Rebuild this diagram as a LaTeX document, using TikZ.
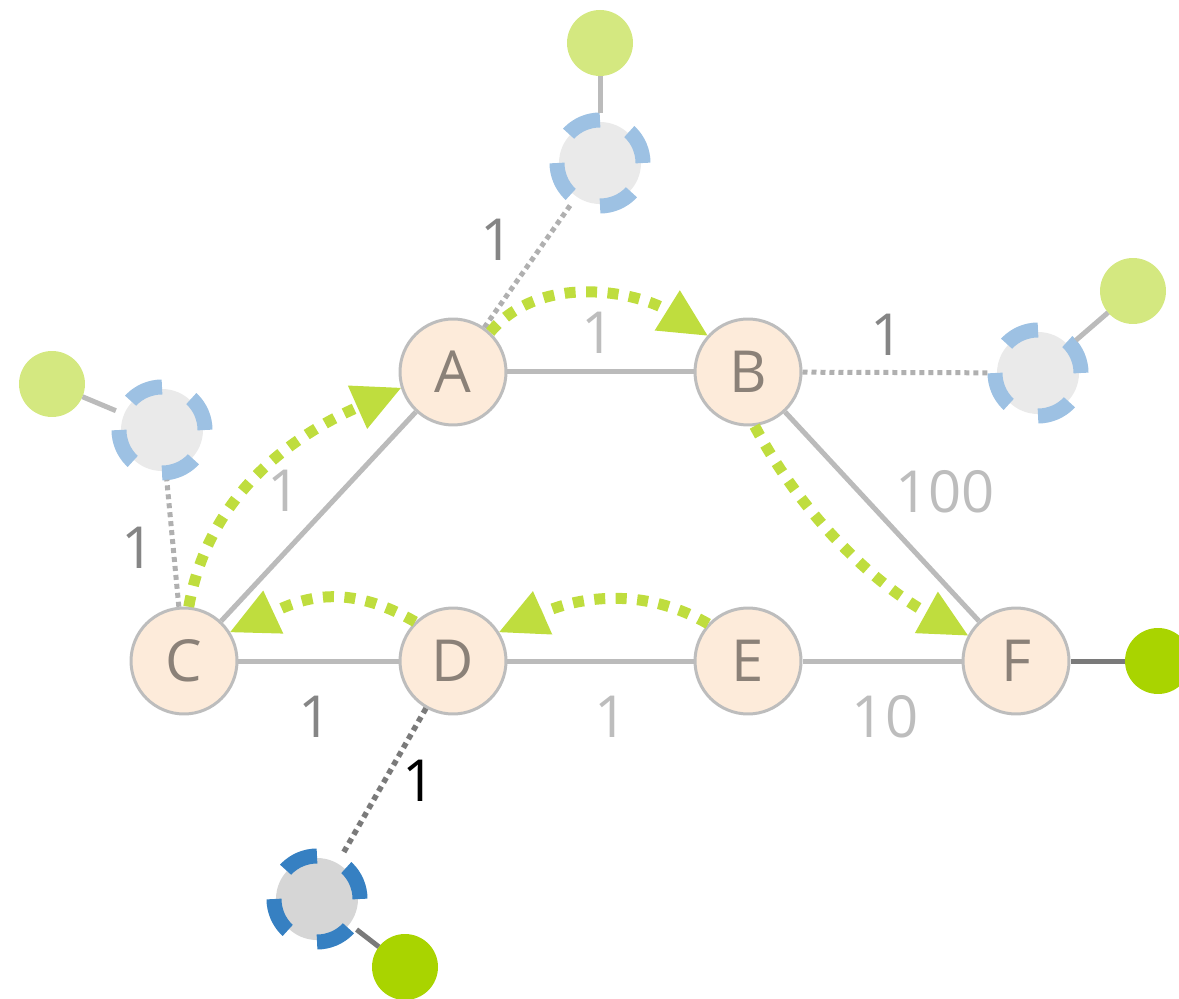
\documentclass[tikz,border=0pt]{standalone}
\usepackage{fontspec}
\setmainfont{Open Sans}
\usetikzlibrary{arrows.meta}
\definecolor{peach}{HTML}{FDEBDA}
\definecolor{nodeborder}{HTML}{BDBDBD}
\definecolor{lettercol}{HTML}{8B8178}
\definecolor{edgegray}{HTML}{BBBBBB}
\definecolor{edgedark}{HTML}{7A7A7A}
\definecolor{dotgray}{HTML}{B0B0B0}
\definecolor{hubfill}{HTML}{EAEAEA}
\definecolor{hubdark}{HTML}{D6D6D6}
\definecolor{ringlight}{HTML}{9DC1E3}
\definecolor{ringdark}{HTML}{3680C2}
\definecolor{leaflight}{HTML}{D4E880}
\definecolor{leafdark}{HTML}{A9D400}
\definecolor{flowgreen}{HTML}{BFDD3E}
\definecolor{lablight}{HTML}{BDBDBD}
\definecolor{labdark}{HTML}{858585}
\begin{document}
\begin{tikzpicture}[x=0.02cm,y=0.02cm,
  bigfont/.style={font=\fontsize{33}{40}\selectfont},
  vert/.style={circle, fill=peach, draw=nodeborder, line width=0.06cm, minimum size=2.12cm, inner sep=0pt, text=lettercol, bigfont},
  hub/.style={circle, fill=hubfill, minimum size=1.64cm, inner sep=0pt, outer sep=0.18cm},
  hubd/.style={hub, fill=hubdark},
  leaf/.style={circle, fill=leaflight, minimum size=1.32cm, inner sep=0pt, outer sep=0pt},
  leafd/.style={leaf, fill=leafdark},
  ring/.style={draw=ringlight, line width=0.3cm, dash pattern=on 0.7055cm off 0.6455cm},
  ringd/.style={ring, draw=ringdark},
  edge/.style={draw=edgegray, line width=0.1cm},
  edged/.style={draw=edgedark, line width=0.1cm},
  dotline/.style={draw=dotgray, line width=0.1cm, dash pattern=on 0.1cm off 0.08cm},
  dotlined/.style={draw=edgedark, line width=0.11cm, dash pattern=on 0.11cm off 0.09cm},
  flow/.style={draw=flowgreen, line width=0.22cm, dash pattern=on 0.22cm off 0.21cm,
    -{Triangle[length=0.95cm,width=0.95cm,line width=0pt]}},
  lbl/.style={bigfont, inner sep=0pt, text=lablight},
  lbld/.style={lbl, text=labdark},
  lblk/.style={lbl, text=black}
]
\clip (0,0) rectangle (1179,998);

% hubs and leaves
\node[hub] (T) at (600,835) {};
\node[leaf] (TG) at (600,955) {};
\node[hub] (R) at (1038,625) {};
\node[leaf] (RG) at (1133,707) {};
\node[hub] (L) at (162,568) {};
\node[leaf] (LG) at (52,614) {};
\node[hubd] (Bm) at (317,99) {};
\node[leafd] (BG) at (405,31) {};
\node[leafd] (FG) at (1158,337) {};

\draw[ring] (T) circle (43);
\draw[ring] (R) circle (43);
\draw[ring] (L) circle (43);
\draw[ringd] (Bm) circle (43);

% main vertices
\node[vert] (A) at (453,626) {A};
\node[vert] (B) at (748,626) {B};
\node[vert] (C) at (184,337) {C};
\node[vert] (D) at (453,337) {D};
\node[vert] (E) at (748,337) {E};
\node[vert] (F) at (1016,337) {F};

% edges
\draw[edge] (A) -- (B);
\draw[edge] (C) -- (A);
\draw[edge] (B) -- (F);
\draw[edge] (C) -- (D);
\draw[edge] (D) -- (E);
\draw[edge] (E) -- (F);

\draw[dotline] (A) -- (T);
\draw[dotline] (B) -- (R);
\draw[dotline] (C) -- (L);
\draw[dotlined] (D) -- (Bm);

\draw[edge] (T) -- (TG);
\draw[edge] (R) -- (RG);
\draw[edge] (L) -- (LG);
\draw[edged] (Bm) -- (BG);
\draw[edged] (F) -- (FG);

% flow arrows
\draw[flow] (A.47) .. controls +(50:80) and +(148:80) .. (B.138);
\draw[flow] (C.85) .. controls +(80:120) and +(204:110) .. (A.197);
\draw[flow] (B.277) .. controls +(-62:110) and +(151:100) .. (F.152);
\draw[flow] (E.137) .. controls +(150:80) and +(24:80) .. (D.32);
\draw[flow] (D.134) .. controls +(150:80) and +(25:80) .. (C.32);

% labels
\node[lbld] (lAT) at (497,758) {1};
\node[lbl]  (lAB) at (598,665) {1};
\node[lbld] (lBR) at (887,663) {1};
\node[lbl]  (lBF) at (945,506) {100};
\node[lbl]  (lCA) at (284,507) {1};
\node[lbld] (lCL) at (138,450) {1};
\node[lbld] (lCD) at (315,281) {1};
\node[lblk] (lDB) at (419,217) {1};
\node[lbl]  (lDE) at (611,281) {1};
\node[lbl]  (lEF) at (885,281) {10};
\end{tikzpicture}
\end{document}
